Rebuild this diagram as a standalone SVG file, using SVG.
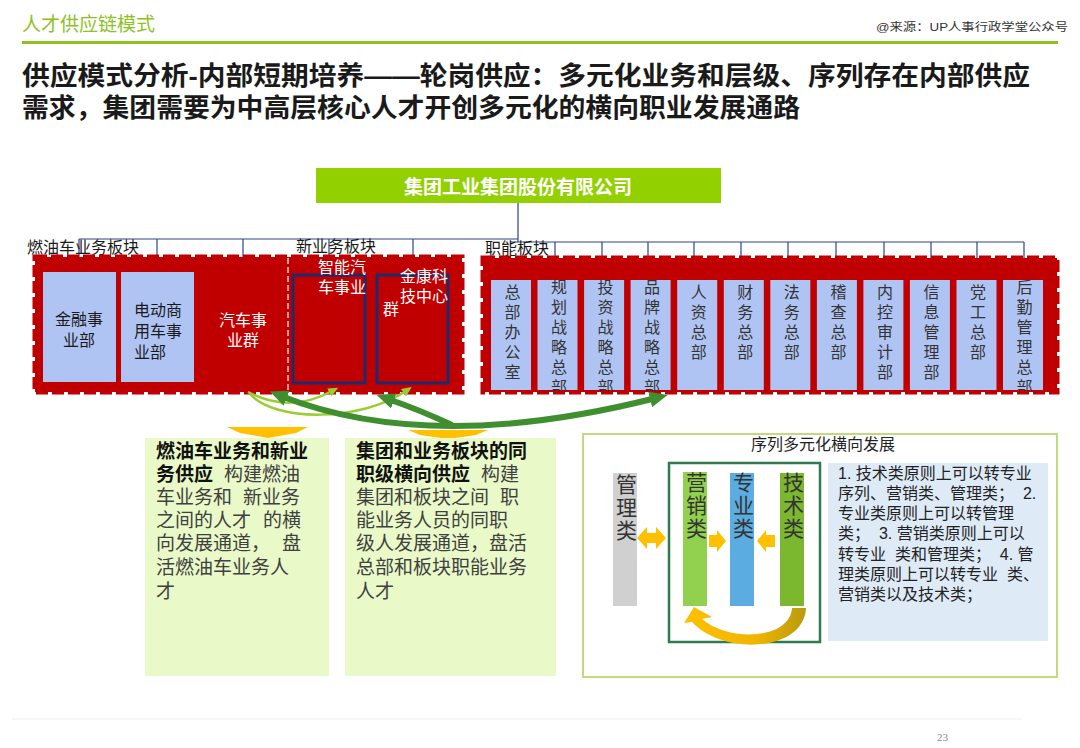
<svg xmlns="http://www.w3.org/2000/svg" width="1080" height="748" viewBox="0 0 1080 748">
<style>
text{font-family:"Liberation Sans","Noto Sans CJK SC",sans-serif}
.lbl{font-size:16px;fill:#1a1a1a}
.wt{font-size:16px;fill:#ffffff}
.col{font-size:16px;fill:#333333;writing-mode:vertical-rl;letter-spacing:4px}
.blue{fill:#B0C4F4}
.conn{stroke:#2B4587;stroke-width:1.2;fill:none}
.redblk{fill:#C00000;stroke:#C00000;stroke-width:5;stroke-dasharray:12 4}
.nb{fill:none;stroke:#1F2A6B;stroke-width:3}
.tb{fill:#E9F9C8}
.bt{font-size:19px;fill:#404040}
.bb{font-weight:bold;fill:#111111}
.bar{font-size:21px;fill:#333333;writing-mode:vertical-rl;letter-spacing:2px}
.st{font-size:16px;fill:#222222}
.org{fill:#FFC000}
</style>
<defs>
<marker id="dg" viewBox="0 0 18 16" markerWidth="18" markerHeight="16" markerUnits="userSpaceOnUse" refX="6" refY="8" orient="auto-start-reverse"><path d="M0,0 L18,8 L0,16 z" fill="#3F8F30"/></marker>
<marker id="lg" viewBox="0 0 10 9" markerWidth="10" markerHeight="9" markerUnits="userSpaceOnUse" refX="3" refY="4.5" orient="auto"><path d="M0,0 L10,4.5 L0,9 z" fill="#9ACD32"/></marker>
<clipPath id="colclip"><rect x="483" y="258" width="574" height="133"/></clipPath>
<linearGradient id="gold" x1="0" y1="0" x2="1" y2="0"><stop offset="0" stop-color="#FFC000"/><stop offset="0.6" stop-color="#F0B400"/><stop offset="1" stop-color="#B89A10"/></linearGradient>
</defs>

<g id="header">
<text x="22" y="31" style="font-size:19px;fill:#8DC21F">人才供应链模式</text>
<text x="876" y="31" textLength="192" lengthAdjust="spacingAndGlyphs" style="font-size:11px;fill:#333333">@来源：UP人事行政学堂公众号</text>
<rect x="22" y="41" width="1036" height="3" fill="#8DC21F"/>
<text x="22" y="85" textLength="1008" lengthAdjust="spacingAndGlyphs" style="font-size:26px;font-weight:bold;fill:#1a1a1a">供应模式分析-内部短期培养——轮岗供应：多元化业务和层级、序列存在内部供应</text>
<text x="22" y="117" textLength="778" lengthAdjust="spacingAndGlyphs" style="font-size:26px;font-weight:bold;fill:#1a1a1a">需求，集团需要为中高层核心人才开创多元化的横向职业发展通路</text>
</g>

<g id="connectors">
<path class="conn" d="M518 203 V242 M79 239 H518 M510 242 H1024 M79 239 V257 M157 239 V257 M243 239 V257 M329 239 V257 M413 239 V257 M555 242 V258 M602 242 V258 M648 242 V258 M694 242 V258 M741 242 V258 M788 242 V258 M836 242 V258 M884 242 V258 M931 242 V258 M977 242 V258 M1024 242 V258"/>
</g>

<g id="company">
<rect x="316" y="168" width="405" height="35" fill="#92D000"/>
<text x="518" y="194" text-anchor="middle" style="font-size:19px;font-weight:bold;fill:#ffffff">集团工业集团股份有限公司</text>
</g>

<g id="labels">
<text class="lbl" x="27" y="253">燃油车业务板块</text>
<text class="lbl" x="296" y="252">新业务板块</text>
<text class="lbl" x="485" y="254">职能板块</text>
</g>

<g id="fuel-block">
<rect class="redblk" x="35" y="257" width="427" height="135"/>
<line x1="288" y1="258" x2="288" y2="391" stroke="#ffffff" stroke-width="1.2" stroke-dasharray="6 3"/>
<rect class="blue" x="43" y="272" width="73" height="110"/>
<text class="lbl" text-anchor="middle"><tspan x="79" y="325">金融事</tspan><tspan x="79" y="346">业部</tspan></text>
<rect class="blue" x="121" y="272" width="73" height="110"/>
<text class="lbl"><tspan x="134" y="316">电动商</tspan><tspan x="134" y="337">用车事</tspan><tspan x="134" y="358">业部</tspan></text>
<text class="wt" text-anchor="middle"><tspan x="243" y="326">汽车事</tspan><tspan x="243" y="346">业群</tspan></text>
</g>

<g id="new-block">
<rect class="nb" x="293" y="275" width="72" height="108"/>
<rect class="nb" x="377" y="275" width="71" height="108"/>
<text class="wt"><tspan x="318" y="273">智能汽</tspan><tspan x="318" y="293">车事业</tspan></text>
<text class="wt"><tspan x="400" y="282">金康科</tspan><tspan x="400" y="302">技中心</tspan></text>
<text class="wt" x="383" y="315">群</text>
</g>

<g id="function-block">
<rect class="redblk" x="483" y="258" width="574" height="134"/>
<g class="blue">
<rect x="491" y="280" width="40" height="110"/>
<rect x="537.5" y="280" width="40" height="110"/>
<rect x="584.1" y="280" width="40" height="110"/>
<rect x="630.6" y="280" width="40" height="110"/>
<rect x="677.2" y="280" width="40" height="110"/>
<rect x="723.8" y="280" width="40" height="110"/>
<rect x="770.3" y="280" width="40" height="110"/>
<rect x="816.9" y="280" width="40" height="110"/>
<rect x="863.4" y="280" width="40" height="110"/>
<rect x="909.9" y="280" width="40" height="110"/>
<rect x="956.5" y="280" width="40" height="110"/>
<rect x="1003" y="280" width="40" height="110"/>
</g>
<g clip-path="url(#colclip)">
<text class="col" x="511" y="284">总部办公室</text>
<text class="col" x="557.5" y="279">规划战略总部</text>
<text class="col" x="604.1" y="279">投资战略总部</text>
<text class="col" x="650.6" y="279">品牌战略总部</text>
<text class="col" x="697.2" y="284">人资总部</text>
<text class="col" x="743.8" y="284">财务总部</text>
<text class="col" x="790.3" y="284">法务总部</text>
<text class="col" x="836.9" y="284">稽查总部</text>
<text class="col" x="883.4" y="284">内控审计部</text>
<text class="col" x="929.9" y="284">信息管理部</text>
<text class="col" x="976.5" y="284">党工总部</text>
<text class="col" x="1023" y="279">后勤管理总部</text>
</g>
</g>

<g id="supply-box-1">
<polygon class="org" points="227,427 308,427 296,433 268,438 240,433"/>
<rect class="tb" x="145" y="438" width="184" height="238"/>
<text class="bt">
<tspan class="bb" x="156" y="458">燃油车业务和新业</tspan>
<tspan class="bb" x="156" y="481">务供应</tspan><tspan x="224" y="481">构建燃油</tspan>
<tspan x="156" y="504">车业务和</tspan><tspan x="243" y="504">新业务</tspan>
<tspan x="156" y="527">之间的人才</tspan><tspan x="263" y="527">的横</tspan>
<tspan x="156" y="550">向发展通道，</tspan><tspan x="282" y="550">盘</tspan>
<tspan x="156" y="574">活燃油车业务人</tspan>
<tspan x="156" y="598">才</tspan>
</text>
</g>

<g id="supply-box-2">
<polygon class="org" points="408,430 488,430 476,435 448,439 420,435"/>
<rect class="tb" x="345" y="438" width="211" height="238"/>
<text class="bt">
<tspan class="bb" x="356" y="458">集团和业务板块的同</tspan>
<tspan class="bb" x="356" y="481">职级横向供应</tspan><tspan x="481" y="481">构建</tspan>
<tspan x="356" y="504">集团和板块之间</tspan><tspan x="500" y="504">职</tspan>
<tspan x="356" y="527">能业务人员的同职</tspan>
<tspan x="356" y="550">级人发展通道，盘活</tspan>
<tspan x="356" y="574">总部和板块职能业务</tspan>
<tspan x="356" y="598">人才</tspan>
</text>
</g>

<g id="supply-arrows">
<path d="M248 392 Q290 414 332 391" fill="none" stroke="#9ACD32" stroke-width="2.5" marker-end="url(#lg)"/>
<path d="M250 394 C275 422 360 422 406 391" fill="none" stroke="#9ACD32" stroke-width="2.5" marker-end="url(#lg)"/>
<path d="M281 396 Q431 455 656 398" fill="none" stroke="#3F8F30" stroke-width="6" marker-start="url(#dg)" marker-end="url(#dg)"/>
<path d="M452 425 Q420 410 388 399" fill="none" stroke="#3F8F30" stroke-width="6" marker-end="url(#dg)"/>
</g>

<g id="sequence-panel">
<rect x="583" y="434" width="474" height="243" fill="#ffffff" stroke="#C2DA7E" stroke-width="2"/>
<text x="823" y="450" text-anchor="middle" style="font-size:16px;fill:#222222">序列多元化横向发展</text>
<rect x="669" y="463" width="151" height="179" fill="none" stroke="#2F7A4F" stroke-width="2.5"/>
<rect x="613" y="473" width="24" height="133" fill="#D0D0D0"/>
<rect x="683" y="472" width="24" height="134" fill="#92D050"/>
<rect x="730" y="473" width="24" height="133" fill="#5BACE0"/>
<rect x="780" y="473" width="24" height="133" fill="#7CB82F"/>
<text class="bar" x="625" y="474">管理类</text>
<text class="bar" x="695" y="472">营销类</text>
<text class="bar" x="742" y="472">专业类</text>
<text class="bar" x="792" y="472">技术类</text>
<polygon class="org" points="637,538 647,527 647,533 656,533 656,527 666,538 656,549 656,543 647,543 647,549"/>
<polygon class="org" points="709,535 717,535 717,530 726,541 717,552 717,547 709,547"/>
<polygon class="org" points="775,535 766,535 766,530 757,541 766,552 766,547 775,547"/>
<path d="M806 608 C804 652 724 656 692 622 L684 623 L694 607 L712 617 L702 619 C728 642 790 640 792 608 Z" fill="url(#gold)"/>
<rect x="828" y="463" width="220" height="178" fill="#DEEBF7"/>
<text class="st" xml:space="preserve"><tspan x="838" y="479">1. 技术类原则上可以转专业</tspan><tspan x="838" y="499">序列、营销类、管理类；  2.</tspan><tspan x="838" y="519">专业类原则上可以转管理</tspan><tspan x="838" y="539">类；  3. 营销类原则上可以</tspan><tspan x="838" y="560">转专业  类和管理类；  4. 管</tspan><tspan x="838" y="580">理类原则上可以转专业  类、</tspan><tspan x="838" y="600">营销类以及技术类；</tspan></text>
</g>

<g id="footer">
<line x1="12" y1="719" x2="1022" y2="719" stroke="#EEEEEE" stroke-width="1"/>
<text x="937" y="741" style="font-family:'Liberation Serif',serif;font-size:11px;fill:#888888">23</text>
</g>
</svg>
